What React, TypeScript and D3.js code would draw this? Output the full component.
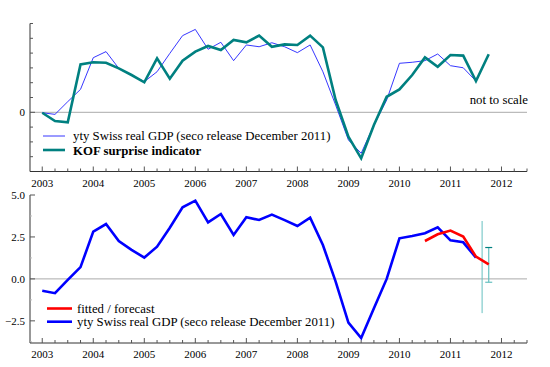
import { useEffect, useRef } from "react";
import * as d3 from "d3";

// quarterly observations, 2003Q1 .. 
const startYear = 2003;
const years = [2003, 2004, 2005, 2006, 2007, 2008, 2009, 2010, 2011, 2012];

// top panel (not to scale, arbitrary units)
const gdpScaled = [
  -0.03, -0.14, 0.72, 1.55, 3.69, 4.1, 2.97, 2.5, 2.07, 2.74, 3.98, 5.18, 5.6, 4.26, 4.73, 3.49,
  4.55, 4.43, 4.7, 4.43, 4.03, 4.55, 2.74, 0.49, -1.87, -2.77, -0.86, 0.83, 3.31, 3.38, 3.49, 3.94,
  3.15, 3.01, 2.11,
];
const kofIndicator = [
  -0.03, -0.59, -0.68, 3.24, 3.38, 3.35, 2.97, 2.52, 2.03, 3.65, 2.27, 3.49, 4.1, 4.48, 4.21, 4.89,
  4.73, 5.18, 4.43, 4.59, 4.55, 5.18, 4.39, 0.83, -1.65, -3.11, -0.86, 1.05, 1.55, 2.52, 3.71, 3.08,
  3.87, 3.83, 2.11, 3.92,
];

// bottom panel, yty Swiss real GDP in percent
const gdpYty = [
  -0.71, -0.85, -0.06, 0.7, 2.82, 3.27, 2.26, 1.73, 1.27, 1.92, 3.05, 4.27, 4.66, 3.37, 3.87, 2.62,
  3.67, 3.51, 3.83, 3.5, 3.15, 3.65, 2.02, -0.16, -2.6, -3.53, -1.75, 0.0, 2.42, 2.56, 2.72, 3.08,
  2.3, 2.18, 1.27,
];
const fittedStart = 2010.5;
const fitted = [2.26, 2.66, 2.88, 2.52, 1.33, 0.87];

// forecast intervals: [time, low, high]
const wideBand: [number, number, number] = [2011.62, -2.04, 3.45];
const capBand: [number, number, number] = [2011.75, -0.2, 1.87];

const topTicks = d3.range(-4, 7);
const bottomTicks = [-2.5, 0, 2.5, 5];
const bottomMinor = [-3.75, -1.25, 1.25, 3.75];

const FONT = "Liberation Serif, DejaVu Serif, serif";
const LEG = "12.8px";

export default function App() {
  const svgRef = useRef<SVGSVGElement>(null);

  useEffect(() => {
    if (!svgRef.current) return;
    const svg = d3.select(svgRef.current);
    svg.selectAll("*").remove();

    const x = d3.scaleLinear().domain([2002.76, 2012.5]).range([30, 527]);
    const yTop = d3.scaleLinear().domain([-4, 6]).range([171.5, 23.5]);
    const yBot = d3.scaleLinear().domain([-3.82, 5]).range([343, 195]);

    const q = (i: number, s = startYear) => s + i * 0.25;
    const quarters = d3.range(2003, 2012.51, 0.25);

    const drawXAxis = (y0: number, labelY: number) => {
      const g = svg.append("g");
      g.append("line")
        .attr("x1", 30).attr("x2", 527).attr("y1", y0).attr("y2", y0)
        .attr("stroke", "#333").attr("stroke-width", 1);
      g.selectAll("line.tick")
        .data(quarters)
        .join("line")
        .attr("x1", d => x(d)).attr("x2", d => x(d))
        .attr("y1", y0)
        .attr("y2", d => (Math.abs(d - Math.round(d)) < 0.01 ? y0 - 5 : y0 - 3))
        .attr("stroke", "#555");
      g.selectAll("text")
        .data(years)
        .join("text")
        .attr("x", d => x(d)).attr("y", labelY)
        .attr("text-anchor", "middle")
        .style("font-family", FONT).style("font-size", "11px")
        .text(d => String(d));
    };

    // ---- top panel ----
    svg.append("line")
      .attr("x1", 30).attr("x2", 527).attr("y1", yTop(0)).attr("y2", yTop(0))
      .attr("stroke", "#aaa");
    svg.append("line")
      .attr("x1", 30).attr("x2", 30).attr("y1", yTop(6)).attr("y2", yTop(-4))
      .attr("stroke", "#333");
    svg.append("g").selectAll("line")
      .data(topTicks)
      .join("line")
      .attr("x1", 30).attr("x2", d => (d === 0 ? 35 : 33))
      .attr("y1", d => yTop(d)).attr("y2", d => yTop(d))
      .attr("stroke", "#555");
    svg.append("text")
      .attr("x", 25).attr("y", yTop(0) + 4)
      .attr("text-anchor", "end")
      .style("font-family", FONT).style("font-size", "11px")
      .text("0");
    drawXAxis(171.5, 187);

    const lineTop = d3.line<number>().x((_, i) => x(q(i))).y(d => yTop(d));
    svg.append("path")
      .attr("d", lineTop(gdpScaled))
      .attr("fill", "none").attr("stroke", "#2020ff").attr("stroke-width", 0.9);
    svg.append("path")
      .attr("d", lineTop(kofIndicator))
      .attr("fill", "none").attr("stroke", "#008080").attr("stroke-width", 2.6)
      .attr("stroke-linejoin", "miter");

    svg.append("text")
      .attr("x", 528).attr("y", 104)
      .attr("text-anchor", "end")
      .style("font-family", FONT).style("font-size", LEG)
      .text("not to scale");

    // top legend
    svg.append("line").attr("x1", 43).attr("x2", 65).attr("y1", 136).attr("y2", 136)
      .attr("stroke", "#2020ff").attr("stroke-width", 0.9);
    svg.append("text").attr("x", 73).attr("y", 140)
      .style("font-family", FONT).style("font-size", LEG)
      .text("yty Swiss real GDP (seco release December 2011)");
    svg.append("line").attr("x1", 43).attr("x2", 65).attr("y1", 150).attr("y2", 150)
      .attr("stroke", "#008080").attr("stroke-width", 2.6);
    svg.append("text").attr("x", 73).attr("y", 154.5)
      .style("font-family", FONT).style("font-size", LEG).style("font-weight", "bold")
      .text("KOF surprise indicator");

    // ---- bottom panel ----
    svg.append("line")
      .attr("x1", 30).attr("x2", 527).attr("y1", yBot(0)).attr("y2", yBot(0))
      .attr("stroke", "#aaa");
    svg.append("line")
      .attr("x1", 30).attr("x2", 30).attr("y1", yBot(5)).attr("y2", 343)
      .attr("stroke", "#333");
    svg.append("g").selectAll("line")
      .data(bottomTicks)
      .join("line")
      .attr("x1", 30).attr("x2", 35)
      .attr("y1", d => yBot(d)).attr("y2", d => yBot(d))
      .attr("stroke", "#555");
    svg.append("g").selectAll("line")
      .data(bottomMinor)
      .join("line")
      .attr("x1", 30).attr("x2", 32)
      .attr("y1", d => yBot(d)).attr("y2", d => yBot(d))
      .attr("stroke", "#bbb");
    svg.append("g").selectAll("text")
      .data(bottomTicks)
      .join("text")
      .attr("x", 25).attr("y", d => yBot(d) + 4)
      .attr("text-anchor", "end")
      .style("font-family", FONT).style("font-size", "11px")
      .text(d => (d < 0 ? "\u2212" : "") + Math.abs(d).toFixed(1));
    drawXAxis(343, 358);

    // forecast intervals
    svg.append("line")
      .attr("x1", x(wideBand[0])).attr("x2", x(wideBand[0]))
      .attr("y1", yBot(wideBand[2])).attr("y2", yBot(wideBand[1]))
      .attr("stroke", "#66c0c0").attr("stroke-width", 1);
    const cx = x(capBand[0]);
    svg.append("line")
      .attr("x1", cx).attr("x2", cx)
      .attr("y1", yBot(capBand[2])).attr("y2", yBot(capBand[1]))
      .attr("stroke", "#66c0c0").attr("stroke-width", 1.2);
    [capBand[2], capBand[1]].forEach((v, i) => {
      svg.append("line")
        .attr("x1", cx - 3.5).attr("x2", cx + 3.5)
        .attr("y1", yBot(v)).attr("y2", yBot(v))
        .attr("stroke", i === 0 ? "#008080" : "#66c0c0").attr("stroke-width", 1.2);
    });

    const lineBot = d3.line<number>().x((_, i) => x(q(i))).y(d => yBot(d));
    const lineFit = d3.line<number>().x((_, i) => x(q(i, fittedStart))).y(d => yBot(d));
    svg.append("path")
      .attr("d", lineBot(gdpYty))
      .attr("fill", "none").attr("stroke", "#0000ff").attr("stroke-width", 2.6);
    svg.append("path")
      .attr("d", lineFit(fitted))
      .attr("fill", "none").attr("stroke", "#ff0000").attr("stroke-width", 2.6);

    // bottom legend
    svg.append("line").attr("x1", 47).attr("x2", 72).attr("y1", 308.5).attr("y2", 308.5)
      .attr("stroke", "#ff0000").attr("stroke-width", 2.6);
    svg.append("text").attr("x", 77).attr("y", 312.5)
      .style("font-family", FONT).style("font-size", LEG)
      .text("fitted / forecast");
    svg.append("line").attr("x1", 47).attr("x2", 72).attr("y1", 321.7).attr("y2", 321.7)
      .attr("stroke", "#0000ff").attr("stroke-width", 2.6);
    svg.append("text").attr("x", 77).attr("y", 326)
      .style("font-family", FONT).style("font-size", LEG)
      .text("yty Swiss real GDP (seco release December 2011)");
  }, []);

  return (
    <svg
      ref={svgRef}
      width={550}
      height={367}
      style={{ position: "absolute", top: 0, left: 0, background: "#fff" }}
    />
  );
}
